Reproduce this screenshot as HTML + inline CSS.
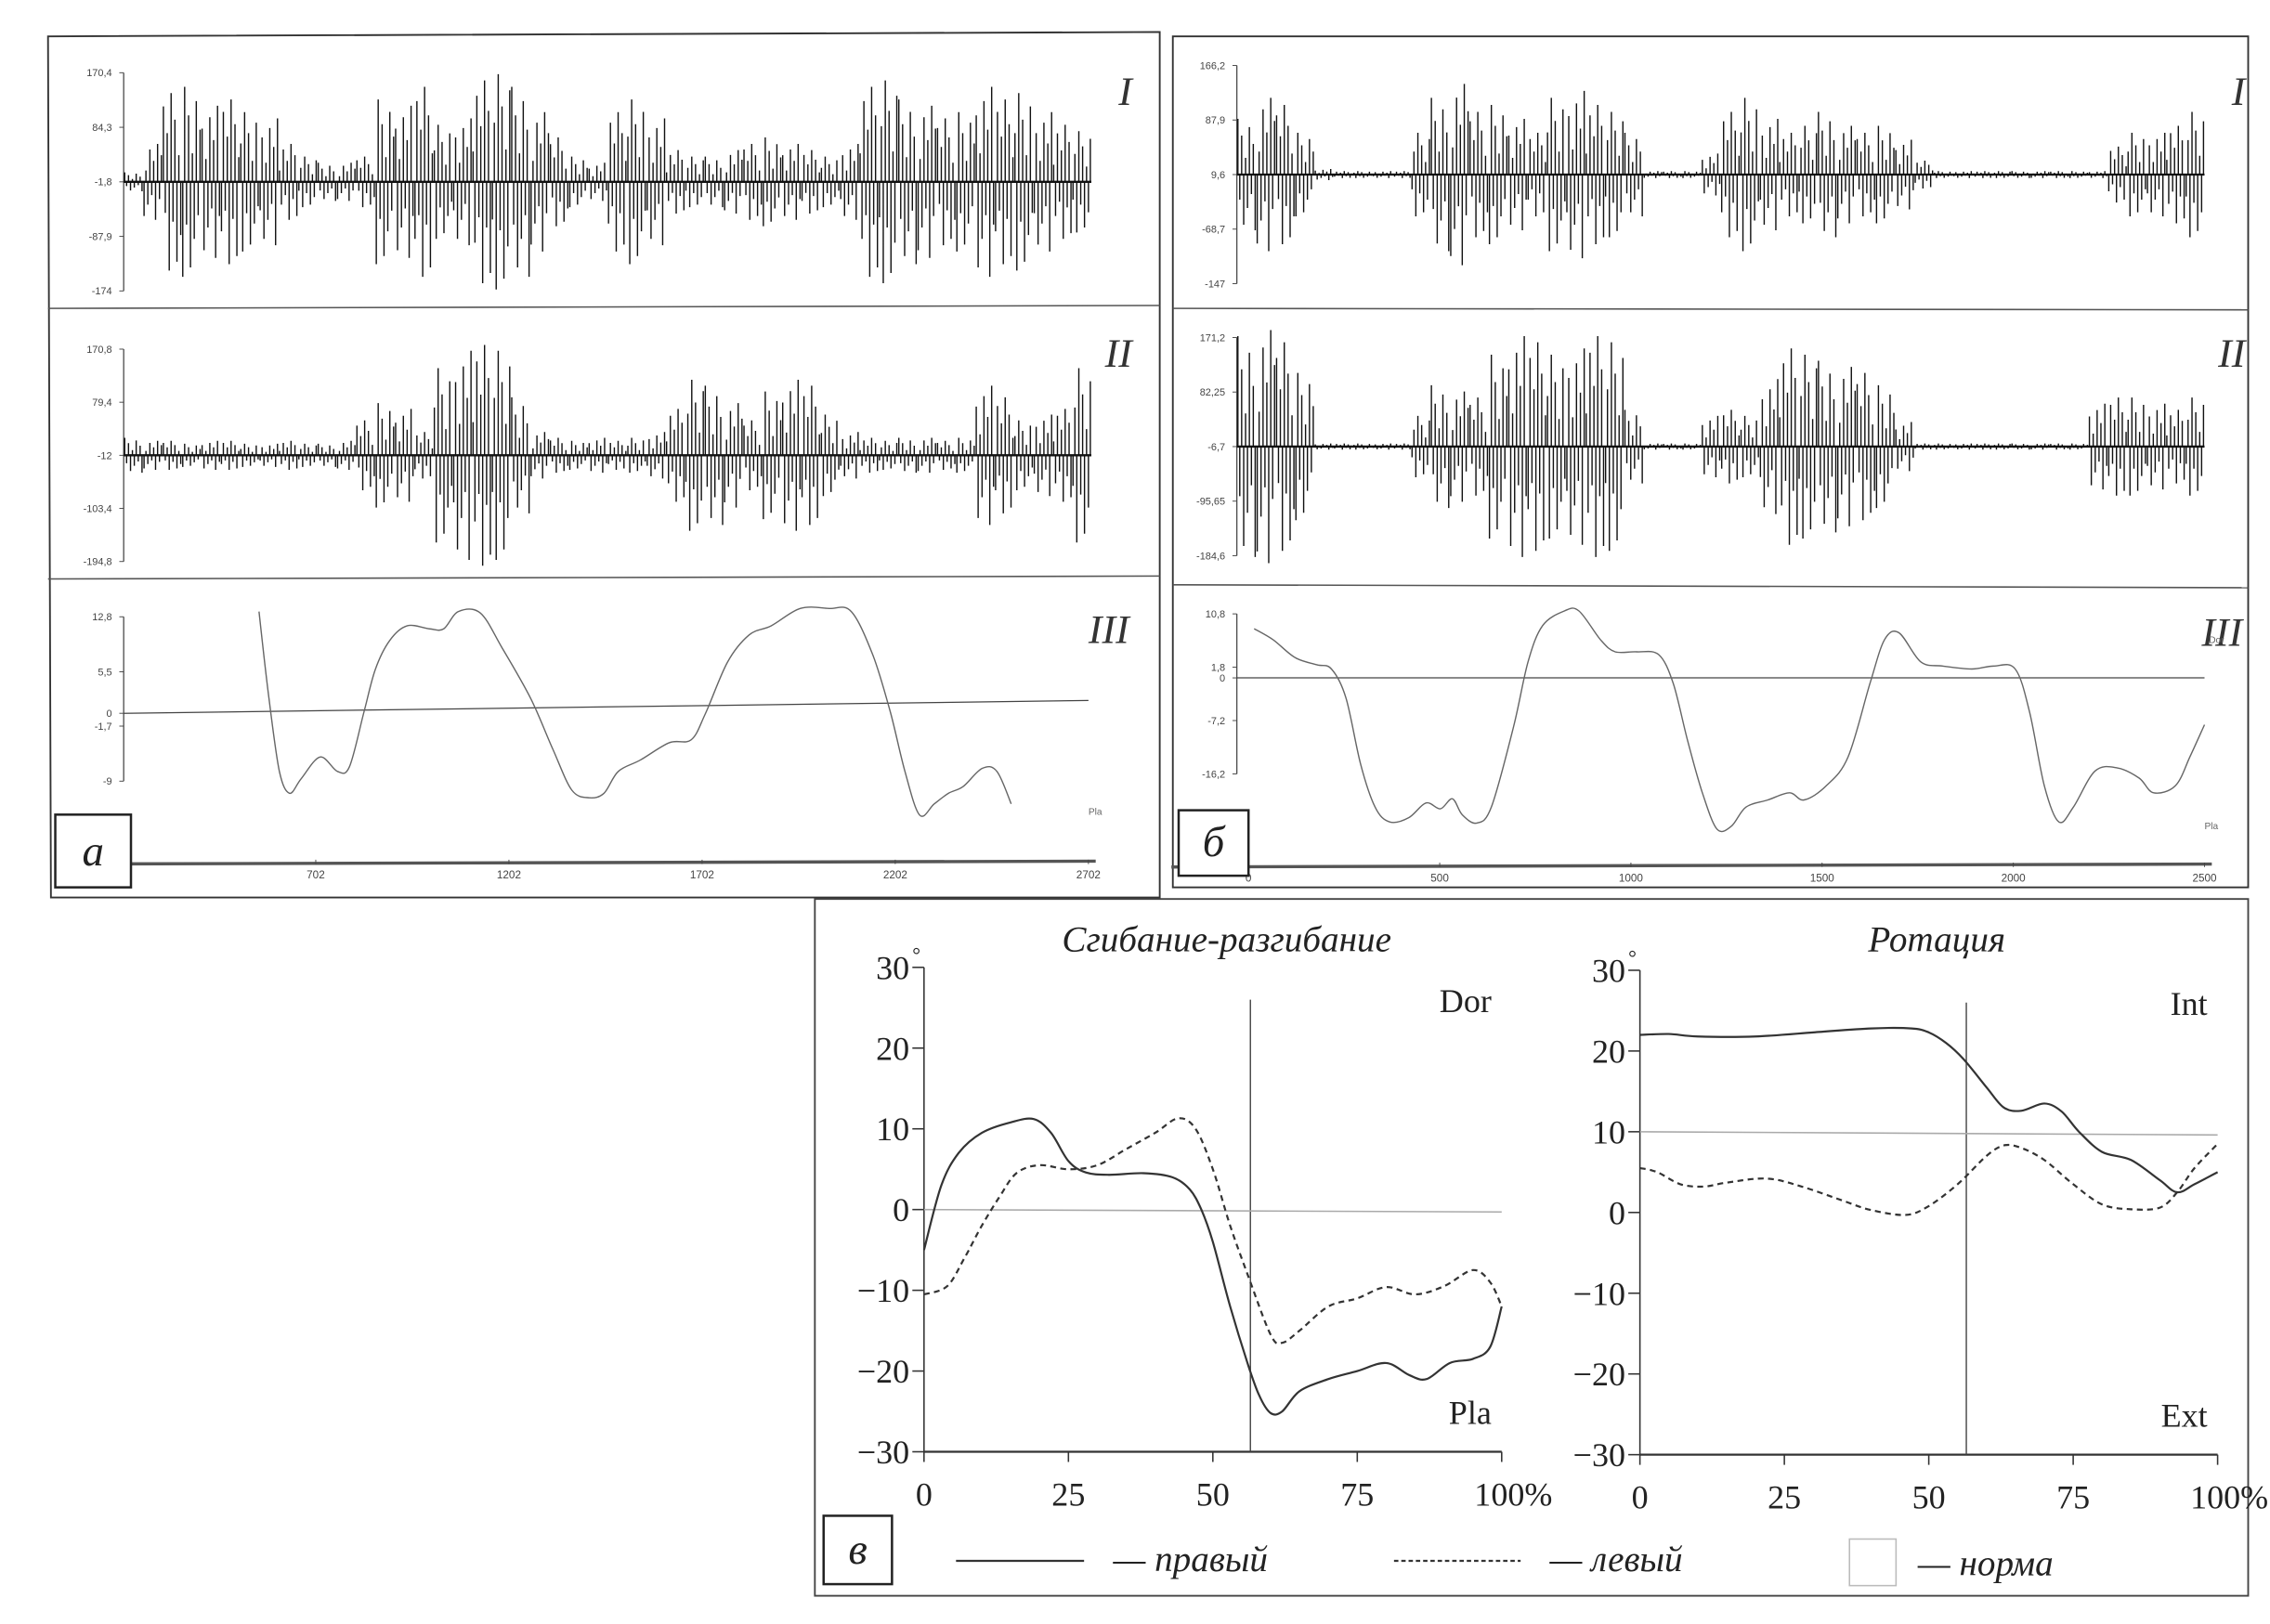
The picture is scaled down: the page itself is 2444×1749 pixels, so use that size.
<!DOCTYPE html>
<html><head><meta charset="utf-8"><style>
html,body{margin:0;padding:0;background:#fff;}
svg{display:block;}
</style></head><body>
<svg id="fig" width="2444" height="1749" viewBox="0 0 1560 1116.4" preserveAspectRatio="none" xmlns="http://www.w3.org/2000/svg" font-family="Liberation Sans, sans-serif"></svg>
<script>
// ---------- DATA ----------
const aI=[15,60,140,150,120,130,110,100,60,40,30,30,40,130,120,150,90,100,160,170,150,110,70,40,30,110,130,100,50,40,40,50,60,70,60,50,40,60,150,160,130,120,100,110,150,130,140,110,90,80];
const aII=[30,25,25,20,25,25,20,20,25,20,20,25,60,90,80,40,150,180,190,180,100,40,30,25,30,25,30,40,80,130,120,90,60,110,130,120,70,40,30,25,30,30,25,30,120,100,60,70,80,150];
const bI=[80,110,100,60,8,5,5,5,5,60,110,130,90,100,80,60,110,120,100,90,60,5,5,5,30,90,110,80,60,70,90,70,60,70,50,20,5,5,5,5,5,5,5,5,5,40,60,60,70,90];
const bII=[180,190,170,120,5,5,5,5,5,50,100,90,80,150,180,170,150,160,180,170,60,5,5,5,50,60,50,110,160,150,140,130,120,100,40,5,5,5,5,5,5,5,5,5,70,80,80,70,60,80];
const aIIIx=[555,581,608,634,664,713,758,789,826,856,894,939,996,1033,1071,1128,1184,1259,1316,1365,1410,1448,1485,1542,1617,1674,1711,1768,1824,1881,1956,2031,2088,2144,2190,2227,2265,2303,2340,2378,2427,2465,2502];
const aIIIy=[13.5,1.9,-7.7,-10.6,-8.7,-5.8,-7.7,-7.1,0,5.8,9.7,11.6,11.2,11.2,13.5,13.3,8.7,1.9,-4.8,-10.2,-11.2,-10.6,-7.7,-6.2,-3.9,-3.5,0,6.8,10.4,11.6,13.9,13.9,13.5,7.7,0,-7.7,-13.5,-12.0,-10.6,-9.7,-7.3,-7.7,-12.0];
const bIIIx=[15,65,122,179,217,255,293,331,369,419,464,502,533,559,597,635,693,731,769,826,864,921,959,1016,1073,1111,1149,1187,1225,1263,1301,1358,1415,1453,1511,1568,1625,1663,1701,1758,1815,1891,1948,2005,2043,2081,2119,2157,2214,2272,2329,2367,2424,2462,2500];
const bIIIy=[8.3,6.4,3.4,2.2,1.5,-3.4,-14.5,-21.8,-24.3,-23.6,-21.1,-22.1,-20.4,-23.1,-24.5,-21.8,-8.3,2.7,8.8,11.3,11.3,6.4,4.4,4.4,3.9,-1.0,-10.8,-19.4,-25.5,-25.0,-21.8,-20.6,-19.4,-20.6,-18.2,-13.3,-1.0,6.4,7.6,2.7,2.0,1.5,2.0,1.5,-5.9,-18.2,-24.3,-21.8,-15.7,-15.2,-16.9,-19.4,-18.2,-13.3,-7.9];
const flexXR=[0,3,6,10,15,19,22,25,28,32,38,43,46,48,50,53,56,58,60,62,65,70,75,80,84,87,91,95,98,100];
const flexR=[-5,3,7,9.5,10.8,11.2,9.5,6,4.6,4.3,4.5,4,2.5,0,-4,-12,-19,-23,-25.2,-25,-22.5,-21,-20,-19,-20.5,-21,-19,-18.5,-17,-12];
const flexXL=[0,4,7,10,13,16,20,25,30,35,40,44,47,50,53,56,60,62,65,70,75,80,85,90,95,98,100];
const flexL=[-10.5,-9.5,-6,-2,1.5,4.5,5.5,5,5.5,7.5,9.5,11.3,10,5,-2,-8,-15.5,-16.5,-15,-12,-11,-9.6,-10.5,-9.5,-7.5,-9,-12];
const rotXR=[0,5,10,20,30,40,47,50,53,56,60,63,66,70,73,76,80,85,90,93,96,100];
const rotR=[22,22.1,21.8,21.8,22.3,22.8,22.8,22.3,21,19,15.5,13,12.6,13.5,12.5,10,7.5,6.5,4,2.5,3.5,5];
const rotXL=[0,3,7,11,15,22,28,35,40,46,50,55,60,63,66,70,75,80,85,90,93,96,100];
const rotL=[5.5,5,3.5,3.2,3.7,4.2,3.2,1.5,0.3,-0.3,0.8,3.5,7,8.3,8,6.5,3.5,1,0.4,0.6,2.5,5.5,8.5];
const vTicks=[30,20,10,0,-10,-20,-30];
const vXTicks=[0,25,50,75,100];

// ---------- HELPERS ----------
const NS='http://www.w3.org/2000/svg';
const svg=document.getElementById('fig');
function mk(tag,attrs,parent){const e=document.createElementNS(NS,tag);for(const k in attrs)e.setAttribute(k,attrs[k]);(parent||svg).appendChild(e);return e;}
function txt(s,x,y,size,attrs,parent){const t=mk('text',Object.assign({x:x,y:y,'font-size':size,fill:'#222'},attrs||{}),parent);t.textContent=s;return t;}
function lin(a,b){return v=>a[1]+(v-a[0])*(b[1]-a[1])/(b[0]-a[0]);}
function smooth(pts){
  let d='M'+pts[0][0].toFixed(1)+' '+pts[0][1].toFixed(1);
  for(let i=0;i<pts.length-1;i++){
    const p0=pts[i-1]||pts[i],p1=pts[i],p2=pts[i+1],p3=pts[i+2]||p2;
    const c1=[p1[0]+(p2[0]-p0[0])/6,p1[1]+(p2[1]-p0[1])/6];
    const c2=[p2[0]-(p3[0]-p1[0])/6,p2[1]-(p3[1]-p1[1])/6];
    d+='C'+c1[0].toFixed(1)+' '+c1[1].toFixed(1)+' '+c2[0].toFixed(1)+' '+c2[1].toFixed(1)+' '+p2[0].toFixed(1)+' '+p2[1].toFixed(1);
  }
  return d;
}

// ---------- PANEL FRAMES ----------
let e;
e=mk('polygon',{points:'33,25 797,22 797,617 35,617',fill:'none',stroke:'#333','stroke-width':1.2});

e=mk('line',{x1:33,y1:212,x2:797,y2:210,stroke:'#555','stroke-width':1});

e=mk('line',{x1:33,y1:398,x2:797,y2:396,stroke:'#555','stroke-width':1});

e=mk('rect',{x:806,y:25,width:739,height:585,fill:'none',stroke:'#333','stroke-width':1.2});

e=mk('line',{x1:806,y1:212,x2:1545,y2:213,stroke:'#555','stroke-width':1});

e=mk('line',{x1:806,y1:402,x2:1545,y2:404,stroke:'#555','stroke-width':1});

e=mk('rect',{x:560,y:618,width:985,height:479,fill:'none',stroke:'#444','stroke-width':1.2});


// ---------- EMG ----------
const pattern=[1,-0.45,0.7,-0.9,0.3,-0.6,0.85,-0.35,0.55,-1];
function emg(name,arr,x0,x1,yTicks,tickLabels,zeroVal,label,labelY){
  const g=mk('g',{});
  
  
  const ys=lin([yTicks[0][0],yTicks[0][1]],[yTicks[1][0],yTicks[1][1]]);
  const top=ys(yTicks[0][0]),bot=ys(yTicks[1][0]);
  const ax=mk('line',{x1:x0,y1:top,x2:x0,y2:bot,stroke:'#444','stroke-width':0.8},g);
  
  tickLabels.forEach(v=>{
    const y=ys(v);
    mk('line',{x1:x0-3,y1:y,x2:x0,y2:y,stroke:'#444','stroke-width':0.6},g);
    const t=txt(String(v).replace('.',','),x0-8,y+2.5,7,{'text-anchor':'end',fill:'#444'},g);
    
  });
  const y0=ys(zeroVal);
  const bw=(x1-x0)/arr.length;
  let d='';
  arr.forEach((amp,i)=>{
    for(let k=0;k<pattern.length;k++){
      const x=x0+i*bw+(k+0.5)*bw/pattern.length;
      const p=pattern[(k+i*3)%pattern.length];
      const y=ys(zeroVal+amp*p);
      d+='M'+x.toFixed(1)+' '+y0.toFixed(1)+'V'+y.toFixed(1);
    }
  });
  const sp=mk('path',{d:d,stroke:'#111','stroke-width':0.9,fill:'none'},g);
  
  const bl=mk('line',{x1:x0,y1:y0,x2:x1,y2:y0,stroke:'#111','stroke-width':1.5},g);
  
  const rl=txt(label,x1+28,labelY,28,{'font-family':'Liberation Serif, serif','font-style':'italic','text-anchor':'end',fill:'#333'},g);
  
}
emg('emg-a-I',aI,85,750,[[170.4,50],[-174,200]],[170.4,84.3,-1.8,-87.9,-174],-1.8,'I',72);
emg('emg-a-II',aII,85,750,[[170.8,240],[-194.8,386]],[170.8,79.4,-12,-103.4,-194.8],-12,'II',252);
emg('emg-b-I',bI,850,1515,[[166.2,45],[-147,195]],[166.2,87.9,9.6,-68.7,-147],9.6,'I',72);
emg('emg-b-II',bII,850,1515,[[171.2,232],[-184.6,382]],[171.2,82.25,-6.7,-95.65,-184.6],-6.7,'II',252);

// ---------- GONIOGRAMS ----------
function gonio(name,xs,ys,xv,yv,x0,x1,yTickVals,xTickVals,baseA,baseB,axisY){
  const g=mk('g',{});
  
  
  const top=ys(yTickVals[0]),bot=ys(yTickVals[yTickVals.length-1]);
  const ax=mk('line',{x1:x0,y1:top,x2:x0,y2:bot,stroke:'#444','stroke-width':0.8},g);
  
  yTickVals.forEach(v=>{
    const y=ys(v);
    mk('line',{x1:x0-3,y1:y,x2:x0,y2:y,stroke:'#444','stroke-width':0.6},g);
    const t=txt(String(v).replace('.',','),x0-8,y+2.5,7,{'text-anchor':'end',fill:'#444'},g);
    
  });
  const xa=mk('line',{x1:x0-45,y1:axisY,x2:x1+5,y2:axisY-2,stroke:'#555','stroke-width':2.2},g);
  
  xTickVals.forEach(v=>{
    const x=xs(v);
    mk('line',{x1:x,y1:axisY-3,x2:x,y2:axisY,stroke:'#444','stroke-width':0.6},g);
    const t=txt(String(v),x,axisY+10,7.5,{'text-anchor':'middle',fill:'#444'},g);
    
  });
  const bl=mk('line',{x1:x0,y1:ys(baseA),x2:x1,y2:ys(baseB),stroke:'#444','stroke-width':0.8},g);
  
  const d=smooth(xv.map((v,i)=>[xs(v),ys(yv[i])]));
  const p=mk('path',{d:d,fill:'none',stroke:'#666','stroke-width':0.9},g);
  
  return g;
}
gonio('gonio-a-III',lin([702,217],[2702,748]),lin([12.8,424],[-9,537]),aIIIx,aIIIy,85,748,[12.8,5.5,0,-1.7,-9],[702,1202,1702,2202,2702],0,1.7,594);
gonio('gonio-b-III',lin([0,858],[2500,1515]),lin([10.8,422],[-16.2,532]),bIIIx,bIIIy,850,1515,[10.8,1.8,0,-7.2,-16.2],[0,500,1000,1500,2000,2500],0,0,596);
e=txt('III',776,442,28,{'font-family':'Liberation Serif, serif','font-style':'italic','text-anchor':'end',fill:'#333'});

e=txt('III',1541,444,28,{'font-family':'Liberation Serif, serif','font-style':'italic','text-anchor':'end',fill:'#333'});

[[748,560,'Pla'],[1515,570,'Pla'],[1518,442,'Dor']].forEach(a=>{
  const t=txt(a[2],a[0],a[1],6.5,{fill:'#666'});
  
});

function letterBox(name,x,y,w,h,s){
  const r=mk('rect',{x:x,y:y,width:w,height:h,fill:'#fff',stroke:'#222','stroke-width':1.6});
  
  const t=txt(s,x+w/2,y+h*0.7,30,{'font-family':'Liberation Serif, serif','font-style':'italic','text-anchor':'middle'});
  
}
letterBox('panel-label-a',38,560,52,50,'а');
letterBox('panel-label-b',810,557,48,45,'б');
letterBox('panel-label-v',566,1042,47,47,'в');

// ---------- PANEL V ----------
function vChart(name,x0,x1,yTop,yBot,title,titleX,upLabel,downLabel,series,normVals){
  const g=mk('g',{});
  
  
  const xs=lin([0,x0],[100,x1]);
  const ys=lin([30,yTop],[-30,yBot]);
  const serif={'font-family':'Liberation Serif, serif'};
  const tt=txt(title,titleX,654,25,Object.assign({'font-style':'italic','text-anchor':'middle'},serif),g);
  
  const ax=mk('line',{x1:x0,y1:ys(30),x2:x0,y2:ys(-30),stroke:'#333','stroke-width':1},g);
  
  const xa=mk('line',{x1:x0,y1:ys(-30),x2:x1,y2:ys(-30),stroke:'#333','stroke-width':1.4},g);
  
  vTicks.forEach(v=>{
    const y=ys(v);
    mk('line',{x1:x0-8,y1:y,x2:x0,y2:y,stroke:'#333','stroke-width':1},g);
    const lab=(v<0?'\u2212'+(-v):String(v));
    const t=txt(lab,x0-10,y+8,23,Object.assign({'text-anchor':'end'},serif),g);
    
  });
  const deg=txt('°',x0-8,ys(30)-4,14,serif,g);
  
  vXTicks.forEach(v=>{
    const x=xs(v);
    mk('line',{x1:x,y1:ys(-30),x2:x,y2:ys(-30)+7,stroke:'#333','stroke-width':1},g);
    const t=txt(v===100?'100%':String(v),v===100?x+8:x,ys(-30)+37,23,Object.assign({'text-anchor':'middle'},serif),g);
    
  });
  const ul=txt(upLabel,x0+390*(x1-x0)/397,ys(25)+3,23,Object.assign({'text-anchor':'end'},serif),g);
  
  const dl=txt(downLabel,x0+390*(x1-x0)/397,ys(-24)+14,23,Object.assign({'text-anchor':'end'},serif),g);
  
  const vl=mk('line',{x1:xs(56.5),y1:ys(26),x2:xs(56.5),y2:ys(-30),stroke:'#444','stroke-width':0.9},g);
  
  const nl=mk('line',{x1:xs(0),y1:ys(normVals[0]),x2:xs(100),y2:ys(normVals[1]),stroke:'#aaa','stroke-width':1},g);
  
  series.forEach(s=>{
    const d=smooth(s.x.map((v,i)=>[xs(v),ys(s.y[i])]));
    const p=mk('path',{d:d,fill:'none',stroke:'#333','stroke-width':1.4,'stroke-dasharray':s.dash},g);
    
  });
}
vChart('flexion-chart',635,1032,665,998,'Сгибание-разгибание',843,'Dor','Pla',
  [{name:'right-flexion-line',x:flexXR,y:flexR,dash:'none'},{name:'left-flexion-line',x:flexXL,y:flexL,dash:'4 3'}],[0,-0.3]);
vChart('rotation-chart',1127,1524,667,1000,'Ротация',1331,'Int','Ext',
  [{name:'right-rotation-line',x:rotXR,y:rotR,dash:'none'},{name:'left-rotation-line',x:rotXL,y:rotL,dash:'4 3'}],[10,9.6]);

// legend
const lg=mk('g',{});


e=mk('line',{x1:657,y1:1073,x2:745,y2:1073,stroke:'#333','stroke-width':1.4},lg);

e=txt('— правый',765,1080,25,{'font-family':'Liberation Serif, serif','font-style':'italic'},lg);

e=mk('line',{x1:958,y1:1073,x2:1045,y2:1073,stroke:'#333','stroke-width':1.4,'stroke-dasharray':'3 2'},lg);

e=txt('— левый',1065,1080,25,{'font-family':'Liberation Serif, serif','font-style':'italic'},lg);

e=mk('rect',{x:1271,y:1058,width:32,height:32,fill:'none',stroke:'#bbb','stroke-width':1},lg);

e=txt('— норма',1318,1083,25,{'font-family':'Liberation Serif, serif','font-style':'italic'},lg);

</script>
</body></html>
